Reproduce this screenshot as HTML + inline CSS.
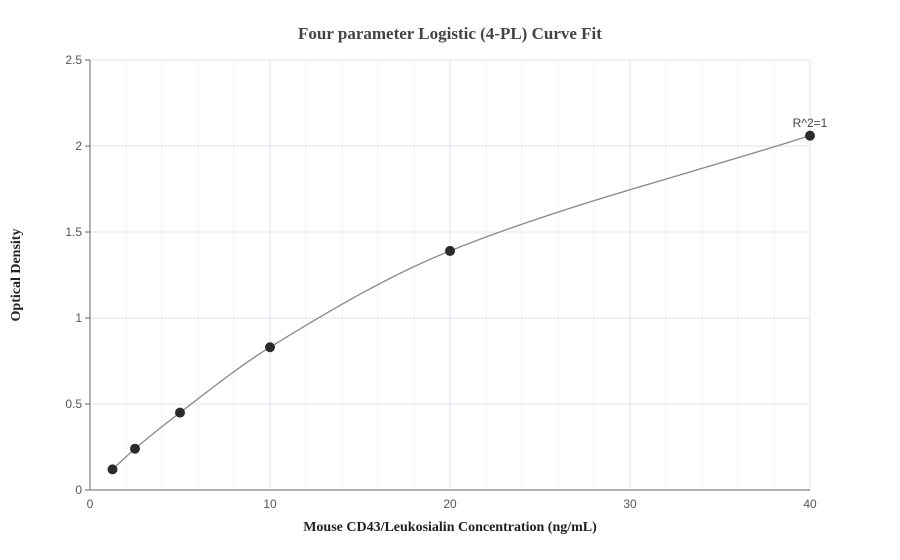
<!DOCTYPE html>
<html><head><meta charset="utf-8"><style>
body{margin:0;background:#fff;}
svg{display:block;font-family:"Liberation Sans",sans-serif;}
</style></head><body>
<svg id="chart" width="900" height="560">
<text x="450" y="39" text-anchor="middle" font-family="Liberation Serif" font-weight="bold" font-size="17" fill="#444">Four parameter Logistic (4-PL) Curve Fit</text>
<g id="grid"></g>
<g id="axes"></g>
<path id="curve" fill="none" stroke="#888" stroke-width="1.3"></path>
<g id="pts"></g>
<text x="810" y="127" text-anchor="middle" font-size="12" fill="#444">R^2=1</text>
<text x="450" y="531" text-anchor="middle" font-family="Liberation Serif" font-weight="bold" font-size="14" fill="#222">Mouse CD43/Leukosialin Concentration (ng/mL)</text>
<text transform="translate(20,275) rotate(-90)" text-anchor="middle" font-family="Liberation Serif" font-weight="bold" font-size="14" fill="#222">Optical Density</text>
</svg>
<script>
const xData=[1.25,2.5,5,10,20,40];
const yData=[0.12,0.24,0.45,0.83,1.39,2.06];
const xTicks=[0,10,20,30,40];
const yTicks=[0,0.5,1,1.5,2,2.5];
const NS="http://www.w3.org/2000/svg";
const X=v=>90+v*18, Y=v=>490-v*172;
function mk(t,a,p){const e=document.createElementNS(NS,t);for(const k in a)e.setAttribute(k,a[k]);p.appendChild(e);return e;}
const grid=document.getElementById('grid'),axes=document.getElementById('axes');
for(let v=2;v<40;v+=2){const l=mk('line',{x1:X(v),x2:X(v),y1:60,y2:490,stroke:v%10?'#eef1f8':'#dde3ef'},grid);

}
mk('line',{x1:X(40),x2:X(40),y1:60,y2:490,stroke:'#dde3ef'},grid);
yTicks.forEach(v=>{if(v>0){const l=mk('line',{x1:90,x2:810,y1:Y(v),y2:Y(v),stroke:'#dde3ef'},grid);

}
const t=mk('text',{x:82,y:Y(v)+4,'text-anchor':'end','font-size':12,fill:'#555'},axes);t.textContent=v;


mk('line',{x1:85,x2:90,y1:Y(v),y2:Y(v),stroke:'#666'},axes);});
xTicks.forEach(v=>{const t=mk('text',{x:X(v),y:508,'text-anchor':'middle','font-size':12,fill:'#555'},axes);t.textContent=v;

});
mk('line',{x1:90,x2:90,y1:60,y2:490,stroke:'#666'},axes);
mk('line',{x1:90,x2:810,y1:490,y2:490,stroke:'#666'},axes);
// monotone cubic through data
const n=xData.length,d=[],m=[];
for(let i=0;i<n-1;i++)d.push((yData[i+1]-yData[i])/(xData[i+1]-xData[i]));
m[0]=d[0];m[n-1]=d[n-2];
for(let i=1;i<n-1;i++)m[i]=d[i-1]*d[i]<=0?0:2/(1/d[i-1]+1/d[i]);
let p='M'+X(xData[0])+','+Y(yData[0]);
for(let i=0;i<n-1;i++){const h=xData[i+1]-xData[i];
p+=' C'+X(xData[i]+h/3)+','+Y(yData[i]+m[i]*h/3)+' '+X(xData[i+1]-h/3)+','+Y(yData[i+1]-m[i+1]*h/3)+' '+X(xData[i+1])+','+Y(yData[i+1]);}
document.getElementById('curve').setAttribute('d',p);
const pts=document.getElementById('pts');
xData.forEach((x,i)=>{const c=mk('circle',{cx:X(x),cy:Y(yData[i]),r:5,fill:'#2b2b2b'},pts);

});
</script>
</body></html>
